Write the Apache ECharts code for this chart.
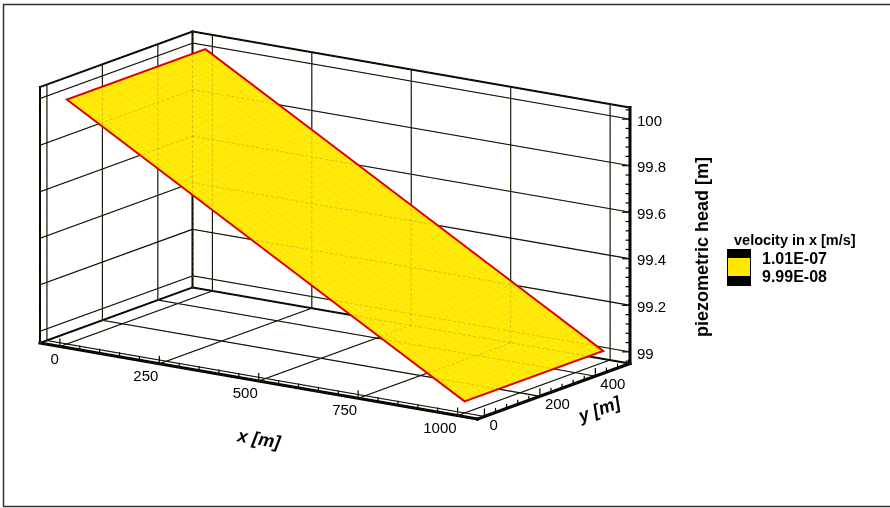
<!DOCTYPE html>
<html>
<head>
<meta charset="utf-8">
<script src="https://cdn.jsdelivr.net/npm/echarts@6/dist/echarts.min.js"></script>
<style>
  html, body { margin: 0; padding: 0; background: #fff; overflow: hidden; }
  #chart { width: 890px; height: 508px; }
</style>
</head>
<body>
<div id="chart"></div>
<script>
// ---- data ---------------------------------------------------------------
// head surface: nodes along x and y, head value at each x column
const surfaceX = [0, 250, 500, 750, 1000];          // x [m]
const surfaceY = [0, 500];                           // y [m]
const surfaceHead = [100, 99.75, 99.5, 99.25, 99];   // piezometric head [m]

// extent of the 3D axis box
const xRange = [-50, 1050];
const yRange = [-25, 525];
const zRange = [98.95, 100.05];

// tick labels of the three axes
const xTicks = [0, 250, 500, 750, 1000];
const yTicks = [0, 200, 400];
const zTicks = [99, 99.2, 99.4, 99.6, 99.8, 100];
const xMinorStep = 50;
const yMinorStep = 40;
const zMinorStep = 0.04;

// contour legend
const legendTitle = 'velocity in x [m/s]';
const legendLevels = ['1.01E-07', '9.99E-08'];

// ---- 3D box placement (oblique parallel projection) ---------------------
const BOX = { ox: 40, oy: 343, ax: [437.5, 76], ay: [152.5, -55.5], az: [0, -256] };
const FONT = '"Liberation Sans", Arial, Helvetica, sans-serif';
const YELLOW = '#FFE800';
const RED = '#DD0000';

function proj(x, y, z) {
  const u = (x - xRange[0]) / (xRange[1] - xRange[0]);
  const v = (y - yRange[0]) / (yRange[1] - yRange[0]);
  const w = (z - zRange[0]) / (zRange[1] - zRange[0]);
  return [
    BOX.ox + u * BOX.ax[0] + v * BOX.ay[0] + w * BOX.az[0],
    BOX.oy + u * BOX.ax[1] + v * BOX.ay[1] + w * BOX.az[1]
  ];
}

const [x0, x1] = xRange, [y0, y1] = yRange, [z0, z1] = zRange;

// grid lines on the left wall, back wall and floor
const gridSegs = [];
zTicks.forEach(z => { gridSegs.push([x0, y0, z, x0, y1, z]); gridSegs.push([x0, y1, z, x1, y1, z]); });
yTicks.forEach(y => { gridSegs.push([x0, y, z0, x0, y, z1]); gridSegs.push([x0, y, z0, x1, y, z0]); });
xTicks.forEach(x => { gridSegs.push([x, y1, z0, x, y1, z1]); gridSegs.push([x, y0, z0, x, y1, z0]); });

// box edges (last value = line width)
const edgeSegs = [
  [x0, y0, z0, x0, y1, z0, 2],
  [x0, y1, z0, x0, y1, z1, 2],
  [x0, y1, z1, x0, y0, z1, 2],
  [x0, y0, z1, x0, y0, z0, 2],
  [x0, y1, z0, x1, y1, z0, 2],
  [x0, y1, z1, x1, y1, z1, 2],
  [x1, y1, z0, x1, y1, z1, 3],
  [x0, y0, z0, x1, y0, z0, 3],
  [x1, y0, z0, x1, y1, z0, 3]
];

// tick marks: [axis, value, isMajor]
function tickList(axis, range, step, majors) {
  const out = [];
  const k0 = Math.ceil(range[0] / step - 1e-9), k1 = Math.floor(range[1] / step + 1e-9);
  for (let k = k0; k <= k1; k++) {
    const v = +(k * step).toFixed(6);
    if (v <= range[0] || v >= range[1]) continue;
    out.push([axis, v, majors.some(m => Math.abs(m - v) < 1e-6) ? 1 : 0]);
  }
  return out;
}
const tickData = [].concat(
  tickList(0, xRange, xMinorStep, xTicks),
  tickList(1, yRange, yMinorStep, yTicks),
  tickList(2, zRange, zMinorStep, zTicks)
);
function tickAnchor(axis, v) {
  if (axis === 0) return proj(v, y0, z0);
  if (axis === 1) return proj(x1, v, z0);
  return proj(x1, y1, v);
}

const labelData = [].concat(
  xTicks.map(v => [0, v]),
  yTicks.map(v => [1, v]),
  zTicks.map(v => [2, v])
);

// surface cells
const cellData = [];
for (let i = 0; i < surfaceX.length - 1; i++)
  for (let j = 0; j < surfaceY.length - 1; j++) cellData.push([i, j]);

// ---- chart ---------------------------------------------------------------
const chart = echarts.init(document.getElementById('chart'), null, { renderer: 'canvas' });

function segRender(style) {
  return function (params, api) {
    const a = api.coord(proj(api.value(0), api.value(1), api.value(2)));
    const b = api.coord(proj(api.value(3), api.value(4), api.value(5)));
    const w = style.widthFromData ? api.value(6) : style.lineWidth;
    return {
      type: 'line',
      shape: { x1: a[0], y1: a[1], x2: b[0], y2: b[1] },
      style: { stroke: style.stroke, lineWidth: w, lineDash: style.lineDash || null, opacity: style.opacity == null ? 1 : style.opacity, lineCap: 'square' },
      silent: true
    };
  };
}

const MESH_STEP = 20;

const option = {
  animation: false,
  grid: { left: 0, right: 0, top: 0, bottom: 0, show: false },
  xAxis: { type: 'value', min: 0, max: 890, show: false },
  yAxis: { type: 'value', min: 0, max: 508, inverse: true, show: false },
  graphic: [
    { type: 'polyline', shape: { points: [[900, 4.5], [3.5, 4.5], [3.5, 506.5], [900, 506.5]] }, style: { fill: 'none', stroke: '#333', lineWidth: 1.5 }, z: 0 },
    { type: 'text', x: 703, y: 247, rotation: Math.PI / 2,
      style: { text: 'piezometric head [m]', font: 'bold 18px ' + FONT, fill: '#000', align: 'center', verticalAlign: 'middle' } },
    { type: 'text', x: 734, y: 241,
      style: { text: legendTitle, font: 'bold 14.5px ' + FONT, fill: '#000', align: 'left', verticalAlign: 'middle' } },
    { type: 'rect', shape: { x: 727, y: 249, width: 24, height: 37 }, style: { fill: '#000' } },
    { type: 'rect', shape: { x: 728, y: 258, width: 22, height: 18 }, style: { fill: YELLOW }, z: 1 },
    { type: 'text', x: 762, y: 260,
      style: { text: legendLevels[0], font: 'bold 16px ' + FONT, fill: '#000', align: 'left', verticalAlign: 'middle' } },
    { type: 'text', x: 762, y: 278,
      style: { text: legendLevels[1], font: 'bold 16px ' + FONT, fill: '#000', align: 'left', verticalAlign: 'middle' } }
  ],
  series: [
    {
      name: 'grid', type: 'custom', coordinateSystem: 'cartesian2d', z: 1,
      data: gridSegs, renderItem: segRender({ stroke: '#000', lineWidth: 1.1 })
    },
    {
      name: 'edges', type: 'custom', coordinateSystem: 'cartesian2d', z: 2,
      data: edgeSegs, renderItem: segRender({ stroke: '#000', widthFromData: true })
    },
    {
      name: 'ticks', type: 'custom', coordinateSystem: 'cartesian2d', z: 2,
      data: tickData,
      renderItem: function (params, api) {
        const axis = api.value(0), v = api.value(1), major = api.value(2);
        const p = api.coord(tickAnchor(axis, v));
        const len = major ? 8 : 4.5;
        const shape = axis === 2
          ? { x1: p[0], y1: p[1], x2: p[0] - len, y2: p[1] }
          : { x1: p[0], y1: p[1], x2: p[0], y2: p[1] - len };
        return { type: 'line', shape: shape, style: { stroke: '#000', lineWidth: 1.2 }, silent: true };
      }
    },
    {
      name: 'surface', type: 'custom', coordinateSystem: 'cartesian2d', z: 3,
      data: cellData,
      renderItem: function (params, api) {
        const i = api.value(0), j = api.value(1);
        const c = [
          api.coord(proj(surfaceX[i], surfaceY[j], surfaceHead[i])),
          api.coord(proj(surfaceX[i + 1], surfaceY[j], surfaceHead[i + 1])),
          api.coord(proj(surfaceX[i + 1], surfaceY[j + 1], surfaceHead[i + 1])),
          api.coord(proj(surfaceX[i], surfaceY[j + 1], surfaceHead[i]))
        ];
        const children = [{
          type: 'polygon', shape: { points: c },
          style: { fill: YELLOW, stroke: YELLOW, lineWidth: 0.6 }
        }];
        // cell mesh drawn as thin light lines across the quad
        const nu = Math.max(1, Math.round((surfaceX[i + 1] - surfaceX[i]) / MESH_STEP));
        const nv = Math.max(1, Math.round((surfaceY[j + 1] - surfaceY[j]) / MESH_STEP));
        const lerp = (a, b, t) => [a[0] + (b[0] - a[0]) * t, a[1] + (b[1] - a[1]) * t];
        const meshStyle = { stroke: '#fff', lineWidth: 0.5, opacity: 0.3 };
        for (let k = 1; k < nu; k++) {
          const a = lerp(c[0], c[1], k / nu), b = lerp(c[3], c[2], k / nu);
          children.push({ type: 'line', shape: { x1: a[0], y1: a[1], x2: b[0], y2: b[1] }, style: meshStyle });
        }
        for (let k = 1; k < nv; k++) {
          const a = lerp(c[0], c[3], k / nv), b = lerp(c[1], c[2], k / nv);
          children.push({ type: 'line', shape: { x1: a[0], y1: a[1], x2: b[0], y2: b[1] }, style: meshStyle });
        }
        return { type: 'group', children: children, silent: true };
      }
    },
    {
      name: 'hidden lines', type: 'custom', coordinateSystem: 'cartesian2d', z: 4,
      data: gridSegs.concat(edgeSegs.map(s => s.slice(0, 6))),
      renderItem: segRender({ stroke: '#6b6400', lineWidth: 1, lineDash: [2, 3], opacity: 0.28 })
    },
    {
      name: 'surface outline', type: 'custom', coordinateSystem: 'cartesian2d', z: 5,
      data: [[0]],
      renderItem: function (params, api) {
        const pts = [];
        const n = surfaceX.length, m = surfaceY.length;
        for (let i = 0; i < n; i++) pts.push(proj(surfaceX[i], surfaceY[0], surfaceHead[i]));
        for (let j = 1; j < m; j++) pts.push(proj(surfaceX[n - 1], surfaceY[j], surfaceHead[n - 1]));
        for (let i = n - 2; i >= 0; i--) pts.push(proj(surfaceX[i], surfaceY[m - 1], surfaceHead[i]));
        for (let j = m - 2; j > 0; j--) pts.push(proj(surfaceX[0], surfaceY[j], surfaceHead[0]));
        return {
          type: 'polygon', shape: { points: pts.map(p => api.coord(p)) },
          style: { fill: 'none', stroke: RED, lineWidth: 2, lineJoin: 'miter' }, silent: true
        };
      }
    },
    {
      name: 'tick labels', type: 'custom', coordinateSystem: 'cartesian2d', z: 6,
      data: labelData,
      renderItem: function (params, api) {
        const axis = api.value(0), v = api.value(1);
        const p = api.coord(tickAnchor(axis, v));
        let x, y, align;
        if (axis === 0) { x = p[0] - 1; y = p[1] + 13; align = 'right'; }
        else if (axis === 1) { x = p[0] + 5; y = p[1] + 9; align = 'left'; }
        else { x = p[0] + 7; y = p[1] + 2.5; align = 'left'; }
        return {
          type: 'text', x: x, y: y,
          style: { text: String(v), font: '15px ' + FONT, fill: '#000', align: align, verticalAlign: 'middle' },
          silent: true
        };
      }
    },
    {
      name: 'axis titles', type: 'custom', coordinateSystem: 'cartesian2d', z: 6,
      data: [[0], [1]],
      renderItem: function (params, api) {
        const axis = api.value(0);
        if (axis === 0) {
          const a = api.coord(proj(x0, y0, z0)), b = api.coord(proj(x1, y0, z0));
          const ang = Math.atan2(b[1] - a[1], b[0] - a[0]);
          return { type: 'text', x: (a[0] + b[0]) / 2, y: (a[1] + b[1]) / 2 + 59, rotation: -ang,
            style: { text: 'x [m]', font: 'italic bold 18px ' + FONT, fill: '#000', align: 'center', verticalAlign: 'middle' } };
        }
        const a = api.coord(proj(x1, y0, z0)), b = api.coord(proj(x1, y1, z0));
        const ang = Math.atan2(b[1] - a[1], b[0] - a[0]);
        return { type: 'text', x: (a[0] + b[0]) / 2 + 46, y: (a[1] + b[1]) / 2 + 19, rotation: -ang,
          style: { text: 'y [m]', font: 'italic bold 18px ' + FONT, fill: '#000', align: 'center', verticalAlign: 'middle' } };
      }
    }
  ]
};

chart.setOption(option);
</script>
</body>
</html>
